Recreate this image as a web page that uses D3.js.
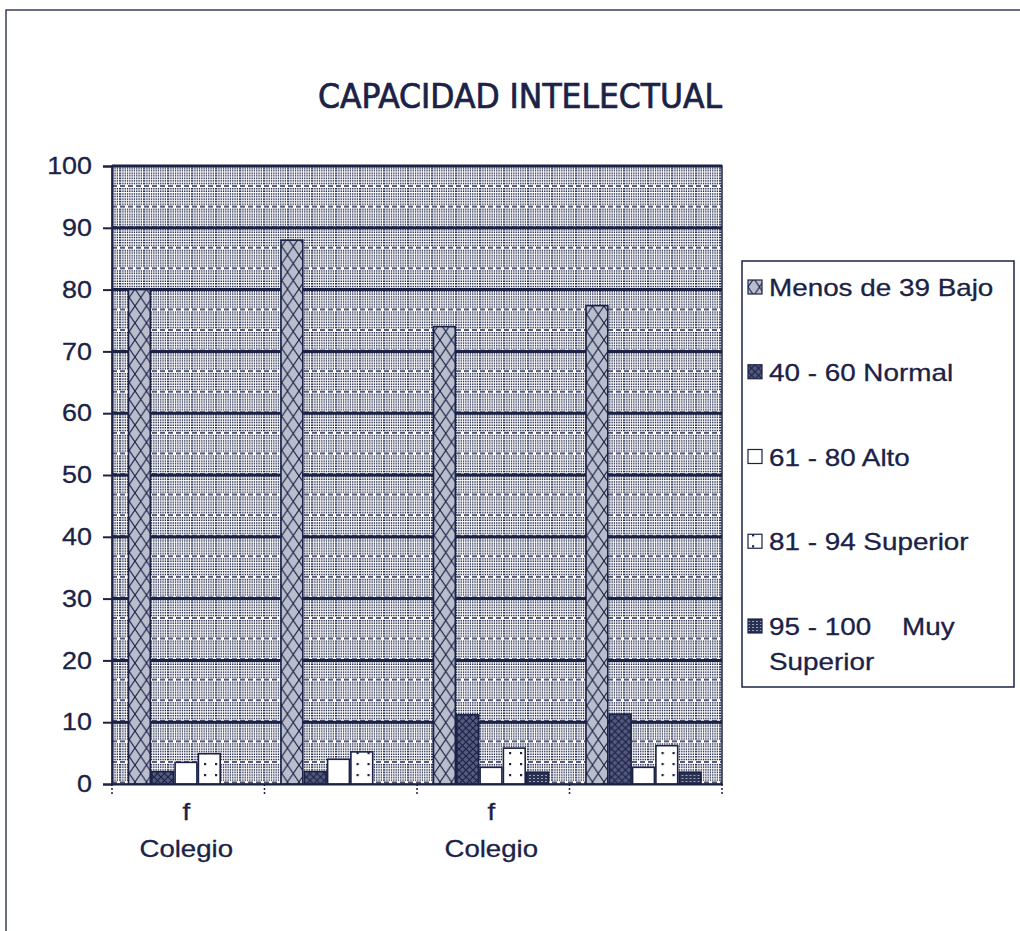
<!DOCTYPE html>
<html><head><meta charset="utf-8">
<script src="https://cdn.jsdelivr.net/npm/d3@7/dist/d3.min.js"></script>
<style>
html,body{margin:0;padding:0;background:#fff;}
svg{display:block;}
</style></head>
<body>
<svg id="chart" width="1020" height="931"></svg>
<script>
// ---- data ----
const categories = ["c1", "c2", "c3", "c4"];
const tickLabels = [["f", "Colegio"], [], ["f", "Colegio"], []];
const seriesNames = ["Menos de 39 Bajo", "40 - 60 Normal", "61 - 80 Alto", "81 - 94 Superior", "95 - 100    Muy Superior"];
const bajo = [80, 88, 74, 77.4];
const normal = [2, 2, 11.2, 11.3];
const alto = [3.5, 4, 2.7, 2.7];
const superior = [4.9, 5.2, 5.8, 6.2];
const muySuperior = [0, 0, 1.9, 1.9];
const yTicks = [0, 10, 20, 30, 40, 50, 60, 70, 80, 90, 100];
const title = "CAPACIDAD INTELECTUAL";

const seriesValues = [bajo, normal, alto, superior, muySuperior];
const ink = "#1b2246";
const font = "'Liberation Sans',Arial,sans-serif";

const svg = d3.select("#chart");
const defs = svg.append("defs");

// background pattern (dotted / dashed rows)
const bgH = 61.7 / 3;
const nRows = 8;
const bgP = defs.append("pattern").attr("id", "bg").attr("patternUnits", "userSpaceOnUse")
  .attr("width", 24).attr("height", bgH);
bgP.append("rect").attr("width", 24).attr("height", bgH).attr("fill", "#fff");
for (let i = 0; i < nRows; i++) {
  const yy = i * bgH / nRows + 1;
  bgP.append("line").attr("x1", 0).attr("x2", 24).attr("y1", yy).attr("y2", yy)
    .attr("stroke", ink).attr("stroke-width", 1.5)
    .attr("stroke-dasharray", i === 0 ? "5 3" : "1.3 1");
}

// series patterns
function crossPattern(id, w, h, bg, sw) {
  const p = defs.append("pattern").attr("id", id).attr("patternUnits", "userSpaceOnUse")
    .attr("width", w).attr("height", h);
  p.append("rect").attr("width", w).attr("height", h).attr("fill", bg);
  p.append("path").attr("d", `M0,0L${w},${h}M${w},0L0,${h}`).attr("stroke", ink).attr("stroke-width", sw);
}
crossPattern("p0", 11.5, 17, "#b9bdcc", 1.1);
crossPattern("p1", 7, 7, "#535a7e", 1.2);
const p3 = defs.append("pattern").attr("id", "p3").attr("patternUnits", "userSpaceOnUse")
  .attr("width", 11).attr("height", 11);
p3.append("rect").attr("width", 11).attr("height", 11).attr("fill", "#fff");
p3.append("rect").attr("x", 4).attr("y", 4).attr("width", 2.2).attr("height", 2.2).attr("fill", ink);
const p4 = defs.append("pattern").attr("id", "p4").attr("patternUnits", "userSpaceOnUse")
  .attr("width", 4).attr("height", 3);
p4.append("rect").attr("width", 4).attr("height", 3).attr("fill", "#2a3152");
p4.append("rect").attr("x", 0).attr("y", 1).attr("width", 2).attr("height", 1).attr("fill", "#9aa0b8");

const fills = ["url(#p0)", "url(#p1)", "#fff", "url(#p3)", "url(#p4)"];

// outer chart-area border
svg.append("rect").attr("x", 6).attr("y", 10).attr("width", 1030).attr("height", 940)
  .attr("fill", "none").attr("stroke", ink).attr("stroke-width", 1.3);

// title
svg.append("text").attr("x", 520).attr("y", 108).attr("text-anchor", "middle")
  .attr("font-family", "'DejaVu Sans Condensed','DejaVu Sans',sans-serif")
  .attr("font-stretch", "condensed")
  .attr("font-size", 33).attr("fill", ink).attr("stroke", ink).attr("stroke-width", 0.7)
  .attr("textLength", 404).attr("lengthAdjust", "spacingAndGlyphs")
  .text(title);

// plot geometry
const pL = 112, pT = 166, pR = 722, pB = 784;
const x0 = d3.scaleBand().domain(categories).range([pL, pR]).padding(0);
const x1 = d3.scaleBand().domain(d3.range(seriesNames.length))
  .range([16, x0.bandwidth() - 20]).padding(0);
const y = d3.scaleLinear().domain([0, 100]).range([pB, pT]);

const plot = svg.append("g");
plot.append("rect").attr("x", pL).attr("y", pT).attr("width", pR - pL).attr("height", pB - pT)
  .attr("fill", "url(#bg)").attr("stroke", ink).attr("stroke-width", 1.5);

// gridlines
plot.append("g").selectAll("line").data(yTicks.filter(d => d > 0)).join("line")
  .attr("x1", pL).attr("x2", pR).attr("y1", d => y(d)).attr("y2", d => y(d))
  .attr("stroke", ink).attr("stroke-width", 3);

// bars
const groups = plot.append("g").selectAll("g").data(categories).join("g")
  .attr("transform", d => `translate(${x0(d)},0)`);
groups.each(function (cat, ci) {
  d3.select(this).selectAll("rect").data(seriesValues.map((s, si) => ({ si, v: s[ci] })))
    .join("rect")
    .filter(d => d.v > 0)
    .attr("x", d => x1(d.si) + 0.5).attr("width", x1.bandwidth() - 1.5)
    .attr("y", d => y(d.v)).attr("height", d => y(0) - y(d.v))
    .attr("fill", d => fills[d.si]).attr("stroke", ink).attr("stroke-width", 1.6);
});

// y axis
const sy = 1.12;
const yAxis = d3.axisLeft(y).tickValues(yTicks).tickSize(9).tickPadding(11);
const gy = svg.append("g").attr("transform", `translate(${pL},0)`).call(yAxis);
gy.select(".domain").attr("stroke", ink).attr("stroke-width", 2);
gy.selectAll(".tick line").attr("stroke", ink).attr("stroke-width", 2);
gy.selectAll(".tick text").attr("font-family", font)
  .attr("font-size", 24).attr("fill", ink).attr("stroke", ink).attr("stroke-width", 0.3)
  .attr("x", -20 / sy).attr("transform", `scale(${sy},1)`);

// x axis
const sx = 1.2;
const xAxis = d3.axisBottom(x0).tickValues([]).tickSizeOuter(0);
const gx = svg.append("g").attr("transform", `translate(0,${pB})`).call(xAxis);
gx.select(".domain").attr("stroke", ink).attr("stroke-width", 2);
const bounds = categories.map(c => x0(c)).concat([pR]);
gx.selectAll("line.b").data(bounds).join("line").attr("class", "b")
  .attr("x1", d => d).attr("x2", d => d).attr("y1", 0).attr("y2", 10)
  .attr("stroke", ink).attr("stroke-width", 1.5).attr("stroke-dasharray", "2 2");
gx.selectAll("g.lab").data(categories).join("g").attr("class", "lab")
  .attr("transform", d => `translate(${x0(d) + x0.bandwidth() / 2 - 2},0)`)
  .each(function (d, i) {
    d3.select(this).selectAll("text").data(tickLabels[i]).join("text")
      .attr("text-anchor", "middle").attr("y", (t, j) => 36 + j * 37)
      .attr("transform", `scale(${sx},1)`)
      .attr("font-family", font).attr("font-size", 23)
      .attr("fill", ink).attr("stroke", ink).attr("stroke-width", 0.3).text(t => t);
  });

// legend
const sl = 1.16;
const lg = svg.append("g");
lg.append("rect").attr("x", 742).attr("y", 261).attr("width", 272).attr("height", 426)
  .attr("fill", "#fff").attr("stroke", ink).attr("stroke-width", 1.5);
const legY = d3.scalePoint().domain(d3.range(seriesNames.length)).range([287, 626]);
const items = lg.selectAll("g.item").data(seriesNames).join("g").attr("class", "item")
  .attr("transform", (d, i) => `translate(748,${legY(i)})`);
items.append("rect").attr("x", 0).attr("y", -7).attr("width", 14).attr("height", 14)
  .attr("fill", (d, i) => fills[i]).attr("stroke", ink).attr("stroke-width", 1.2);
items.each(function (d, i) {
  const g = d3.select(this);
  const lines = i === 4 ? ["95 - 100    Muy", "Superior"] : [d];
  g.selectAll("text").data(lines).join("text")
    .attr("x", 21 / sl).attr("y", (s, j) => 9 + j * 35)
    .attr("transform", `scale(${sl},1)`)
    .attr("font-family", font).attr("font-size", 24)
    .attr("fill", ink).attr("stroke", ink).attr("stroke-width", 0.3)
    .attr("xml:space", "preserve").text(s => s);
});
</script>
</body></html>
